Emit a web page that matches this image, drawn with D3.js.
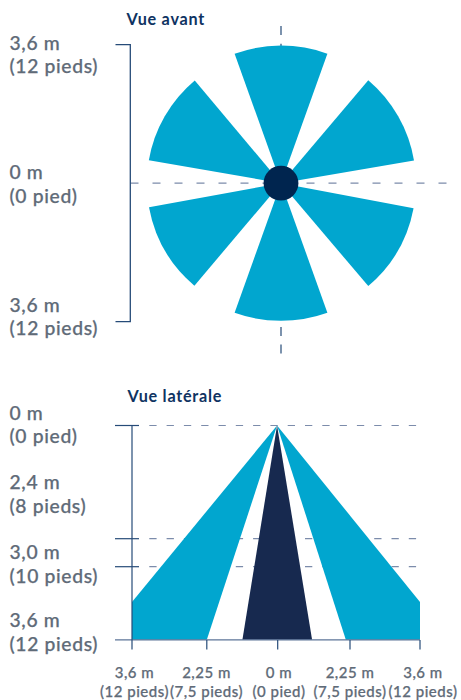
<!DOCTYPE html>
<html><head><meta charset="utf-8">
<script src="https://cdnjs.cloudflare.com/ajax/libs/d3/7.8.5/d3.min.js"></script>
<style>
html,body{margin:0;padding:0;background:#fff}
svg{display:block}
text{font-family:Lato,sans-serif}
.lab{font-size:19.3px;font-weight:500;fill:#5f6b78;stroke:#5f6b78;stroke-width:.25px;letter-spacing:.65px}
.xlab{font-size:15px;font-weight:500;fill:#5f6b78;stroke:#5f6b78;stroke-width:.25px;letter-spacing:.5px;text-anchor:middle}
.title{font-size:16.2px;font-weight:700;fill:#0f3362;letter-spacing:.75px}
</style></head><body>
<svg id="c" width="461" height="700"></svg>
<script>
// Front view: beam start/end angles (degrees clockwise from top) and reach (m)
const frontStart = [-19.7, 40.3, 100.7, 160.3, 220.2, 279.9];
const frontEnd = [19.7, 80.3, 139.7, 199.7, 259.7, 320];
const frontReach = [3.6, 3.53, 3.53, 3.6, 3.51, 3.51];
const frontLabels = [["3,6 m","(12 pieds)"],["0 m","(0 pied)"],["3,6 m","(12 pieds)"]];
const frontLabelValues = [3.6, 0, -3.6];

// Side view: polygons as [horizontal m, depth m]
const sideLeft = [[-0.02,0],[-3.6,3.29],[-3.6,3.6],[-2.25,3.6]];
const sideRight = [[-0.02,0],[3.6,3.29],[3.6,3.6],[2.12,3.6]];
const sideCentre = [[-0.02,0],[-1.12,3.6],[1.07,3.6]];
const depthTicks = [0, 2.4, 3.0, 3.6];
const depthLabels = [["0 m","(0 pied)"],["2,4 m","(8 pieds)"],["3,0 m","(10 pieds)"],["3,6 m","(12 pieds)"]];
const hTicks = [-3.6, -2.25, 0, 2.25, 3.6];
const hLabels = [["3,6 m","(12 pieds)"],["2,25 m","(7,5 pieds)"],["0 m","(0 pied)"],["2,25 m","(7,5 pieds)"],["3,6 m","(12 pieds)"]];

const svg = d3.select("#c");
const BLUE="#01a6cf", NAVY="#17294f", HUB="#00254f", AXIS="#264b78", DASH="#7c8cab";

// ---- Front view
const fy = d3.scaleLinear().domain([-3.6,3.6]).range([321.7,44.7]);
const fr = d3.scaleLinear().domain([0,3.6]).range([0,137.6]);
const cx = 281, cy = fy(0);
const front = svg.append("g");
front.append("line").attr("x1",130.5).attr("x2",449).attr("y1",cy).attr("y2",cy)
  .attr("stroke",DASH).attr("stroke-width",1.3).attr("stroke-dasharray","8 14");
front.append("line").attr("x1",cx).attr("x2",cx).attr("y1",26).attr("y2",354)
  .attr("stroke",AXIS).attr("stroke-width",1.2).attr("stroke-dasharray","9 8.7");
const arc = d3.arc().innerRadius(0);
front.append("g").attr("transform",`translate(${cx},${cy})`)
  .selectAll("path").data(frontStart).join("path")
  .attr("fill",BLUE)
  .attr("d",(d,i)=>arc({outerRadius:fr(frontReach[i]),startAngle:d*Math.PI/180,endAngle:frontEnd[i]*Math.PI/180}));
front.append("circle").attr("cx",cx).attr("cy",cy).attr("r",17.4).attr("fill",HUB);
front.append("path").attr("fill","none").attr("stroke",AXIS).attr("stroke-width",1.3)
  .attr("d",`M115.5,${fy(3.6)}H130.3V${fy(-3.6)}H115.5`);
front.append("text").attr("class","title").attr("x",126.5).attr("y",25).text("Vue avant");
const labelY=[50,179.3,312];
front.selectAll("text.lab").data(frontLabels).join("text").attr("class","lab")
  .attr("x",9.5).attr("y",(d,i)=>labelY[i])
  .selectAll("tspan").data(d=>d).join("tspan").attr("x",9.5).attr("dy",(d,i)=>i?23.4:0).text(d=>d);

// ---- Side view
const sx = d3.scaleLinear().domain(hTicks).range([132,206.8,277.7,350,420]);
const sy = d3.scaleLinear().domain(depthTicks).range([425.5,538.7,566.7,639.8]);
const side = svg.append("g");
side.selectAll("line.d").data(depthTicks.slice(0,3)).join("line").attr("class","d")
  .attr("x1",149.3).attr("x2",418).attr("y1",d=>sy(d)).attr("y2",d=>sy(d))
  .attr("stroke",DASH).attr("stroke-width",1.2).attr("stroke-dasharray","7.3 10");
const poly = d3.line().x(d=>sx(d[0])).y(d=>sy(d[1]));
side.append("path").attr("d",poly(sideLeft)+"Z").attr("fill",BLUE);
side.append("path").attr("d",poly(sideRight)+"Z").attr("fill",BLUE);
side.append("path").attr("d",poly(sideCentre)+"Z").attr("fill",NAVY);
side.selectAll("line.t").data(depthTicks).join("line").attr("class","t")
  .attr("x1",115).attr("x2",d=>d===3.6?420:139).attr("y1",d=>sy(d)).attr("y2",d=>sy(d))
  .attr("stroke",d=>d===3.6?"#5d7598":AXIS).attr("stroke-width",1.2);
side.append("line").attr("x1",sx(-3.6)).attr("x2",sx(-3.6)).attr("y1",sy(0)).attr("y2",649.5)
  .attr("stroke",AXIS).attr("stroke-width",1.2);
side.selectAll("line.x").data(hTicks.slice(1)).join("line").attr("class","x")
  .attr("x1",d=>sx(d)).attr("x2",d=>sx(d)).attr("y1",640).attr("y2",649.5)
  .attr("stroke",AXIS).attr("stroke-width",1.2);
side.append("text").attr("class","title").attr("x",127.5).attr("y",401.5).text("Vue latérale");
const sideLabelY=[420,489.3,559.3,627.3];
side.selectAll("text.lab").data(depthLabels).join("text").attr("class","lab")
  .attr("x",9.5).attr("y",(d,i)=>sideLabelY[i])
  .selectAll("tspan").data(d=>d).join("tspan").attr("x",9.5).attr("dy",(d,i)=>i?23.4:0).text(d=>d);
const hLabelX=[134.5,206.5,279,350,423];
side.selectAll("text.xlab").data(hLabels).join("text").attr("class","xlab")
  .attr("y",677.7).each(function(d,i){
    d3.select(this).selectAll("tspan").data(d).join("tspan").attr("x",hLabelX[i]).attr("dy",(t,j)=>j?19:0).text(t=>t);
  });
</script>
</body></html>
